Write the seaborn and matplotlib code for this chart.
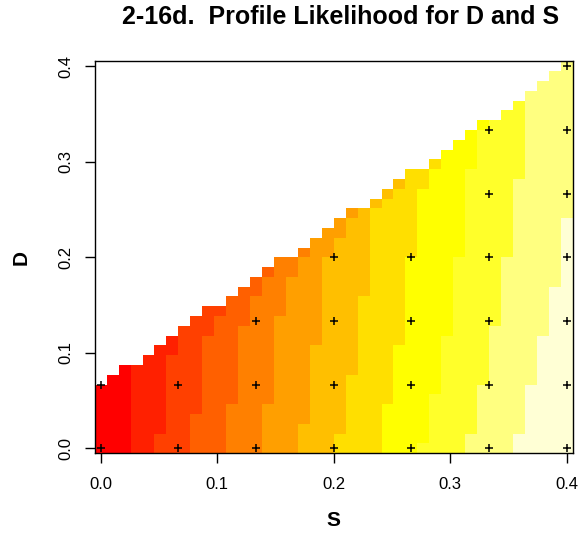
import numpy as np
import pandas as pd
import matplotlib
matplotlib.use("Agg")
import matplotlib.pyplot as plt
import seaborn as sns
from matplotlib.colors import ListedColormap

# ---------------- data ----------------
# grid of the image (40 x 40 cells, S and D from 0 to 0.4)
S_values = np.linspace(0.0, 0.4, 40)
D_values = np.linspace(0.0, 0.4, 40)

# highest filled D-row for each S-column (cells above are empty)
top_row = [6, 7, 8, 8, 9, 10, 11, 12, 13, 14, 14, 15, 16, 17, 18, 19, 19, 20, 21, 22,
           23, 24, 24, 25, 26, 27, 28, 28, 29, 30, 31, 32, 33, 33, 34, 35, 36, 37, 38, 39]

# colour-level boundaries: level k first appears at column level_start[k-1];
# level_heights gives, for the transitional columns, how many rows (from D=0)
# reach that level; columns further right reach it in every row.
level_start = [3, 5, 8, 11, 14, 17, 20, 24, 27, 31, 35]
level_heights = [
    [],
    [2, 10],
    [4, 12, 14],
    [5, 13, 16, 18],
    [5, 14, 18, 20],
    [3, 11, 20, 22, 24],
    [2, 8, 16, 25, 26, 27],
    [5, 11, 20, 27, 29],
    [1, 6, 12, 20, 29, 33],
    [2, 7, 13, 20, 28],
    [2, 7, 12, 17, 24],
]

# R heat.colors(12)
heat_colors = ["#FF0000", "#FF2000", "#FF4000", "#FF6000", "#FF8000", "#FF9F00",
               "#FFBF00", "#FFDF00", "#FFFF00", "#FFFF2A", "#FFFF80", "#FFFFD5"]

# coarse grid points marked with '+'
marker_S = [0.0, 0.0667, 0.1333, 0.2, 0.2667, 0.3333, 0.4,
            0.0, 0.0667, 0.1333, 0.2, 0.2667, 0.3333, 0.4,
            0.1333, 0.2, 0.2667, 0.3333, 0.4,
            0.2, 0.2667, 0.3333, 0.4,
            0.3333, 0.4,
            0.3333, 0.4,
            0.4]
marker_D = [0.0, 0.0, 0.0, 0.0, 0.0, 0.0, 0.0,
            0.0667, 0.0667, 0.0667, 0.0667, 0.0667, 0.0667, 0.0667,
            0.1333, 0.1333, 0.1333, 0.1333, 0.1333,
            0.2, 0.2, 0.2, 0.2,
            0.2667, 0.2667,
            0.3333, 0.3333,
            0.4]

tick_values = [0.0, 0.1, 0.2, 0.3, 0.4]
tick_labels = ["0.0", "0.1", "0.2", "0.3", "0.4"]

title = "2-16d.  Profile Likelihood for D and S"
xlabel = "S"
ylabel = "D"

# ---------------- build level matrix ----------------
nS, nD = len(S_values), len(D_values)
Z = np.zeros((nD, nS))
for k in range(len(level_start)):
    c0 = level_start[k]
    hs = level_heights[k]
    for c in range(c0, nS):
        idx = c - c0
        if idx < len(hs):
            Z[:hs[idx], c] += 1
        else:
            Z[:, c] += 1
for c in range(nS):
    Z[top_row[c] + 1:, c] = np.nan

df = pd.DataFrame(Z, index=np.round(D_values, 4), columns=np.round(S_values, 4))

# ---------------- plot ----------------
plt.rcParams["font.family"] = ["Liberation Sans", "DejaVu Sans"]
W, H = 579, 536
fig = plt.figure(figsize=(W / 100, H / 100), dpi=100)
L, R, T, B = 94.7, 572.7, 61.4, 453.2
ax = fig.add_axes([L / W, 1 - B / H, (R - L) / W, (B - T) / H])

sns.heatmap(df, cmap=ListedColormap(heat_colors), vmin=-0.5, vmax=11.5,
            cbar=False, ax=ax, xticklabels=False, yticklabels=False)
ax.set_ylim(0, nD)
ax.set_xlim(0, nS)

dS = S_values[1] - S_values[0]
dD = D_values[1] - D_values[0]

mx = [0.5 + s / dS for s in marker_S]
my = [0.5 + d / dD for d in marker_D]
ax.scatter(mx, my, marker="+", s=32, c="black", linewidths=1.1, zorder=5)

ax.set_xticks([0.5 + v / dS for v in tick_values])
ax.set_xticklabels(tick_labels)
ax.set_yticks([0.5 + v / dD for v in tick_values])
ax.set_yticklabels(tick_labels, rotation=90, va="center")
ax.tick_params(axis="both", length=7, width=1, color="black", labelsize=12,
               direction="out")
ax.tick_params(axis="x", pad=10)
ax.tick_params(axis="y", pad=8)
ax.set_xlabel("")
ax.set_ylabel("")

for s in ax.spines.values():
    s.set_visible(True)
    s.set_color("black")
    s.set_linewidth(1.0)

fig.text(340.5 / W, 1 - 17.5 / H, title, ha="center", va="center",
         fontsize=18, fontweight="bold")
fig.text(333.7 / W, 1 - 521 / H, xlabel, ha="center", va="center",
         fontsize=15, fontweight="bold")
fig.text(21.5 / W, 1 - 257.5 / H, ylabel, ha="center", va="center",
         fontsize=15, fontweight="bold", rotation=90)

fig.savefig("out.png", dpi=100, facecolor="white")
